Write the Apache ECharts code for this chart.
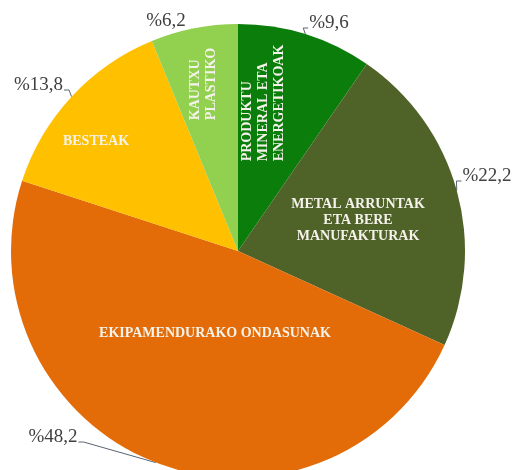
<!DOCTYPE html>
<html>
<head>
<meta charset="utf-8">
<script src="https://cdn.jsdelivr.net/npm/echarts@6/dist/echarts.min.js"></script>
<style>
  html, body { margin: 0; padding: 0; background: #ffffff; }
  #chart { width: 514px; height: 470px; }
</style>
</head>
<body>
<div id="chart"></div>
<script>
// Export shares by product group (%), clockwise from 12 o'clock
const categories = [
  'PRODUKTU\nMINERAL ETA\nENERGETIKOAK',
  'METAL ARRUNTAK\nETA BERE\nMANUFAKTURAK',
  'EKIPAMENDURAKO ONDASUNAK',
  'BESTEAK',
  'KAUTXU\nPLASTIKO'
];
const shares = [9.6, 22.2, 48.2, 13.8, 6.2];

// Slice colours
const sliceColors = ['#0b7d0b', '#4f6228', '#e36c09', '#ffc000', '#92d050'];

// Label placement (text centres, in px) and rotation
const innerLabelPos = [[263, 103], [358, 220], [215, 333], [96, 141], [203, 84]];
const innerLabelRotate = [90, 0, 0, 0, 90];
const outerLabelPos = [[329, 23], [487, 176], [53, 437], [38.5, 85], [166, 21]];
const outerLeaderShown = [true, true, true, true, false];

const SERIF = '"Liberation Serif", "Times New Roman", serif';

function pctText(v) {
  return '%' + String(v).replace('.', ',');
}

const chart = echarts.init(document.getElementById('chart'), null, { renderer: 'canvas' });

const baseData = categories.map((name, i) => ({
  name: name,
  value: shares[i]
}));

const pieCenter = [238, 251];
const pieRadius = 227;

chart.setOption({
  animation: false,
  backgroundColor: '#ffffff',
  series: [
    {
      // slices with value labels and leader lines
      type: 'pie',
      center: pieCenter,
      radius: [0, pieRadius],
      startAngle: 90,
      clockwise: true,
      silent: true,
      avoidLabelOverlap: false,
      data: baseData.map((d, i) => ({
        name: d.name,
        value: d.value,
        itemStyle: { color: sliceColors[i] },
        labelLine: { show: outerLeaderShown[i] }
      })),
      label: {
        show: true,
        position: 'outside',
        formatter: p => pctText(p.value),
        fontFamily: SERIF,
        fontSize: 19,
        color: '#404040'
      },
      labelLine: {
        show: true,
        length: 6,
        length2: 6,
        lineStyle: { color: '#5a6470', width: 1 }
      },
      labelLayout: function (params) {
        const i = params.dataIndex;
        const pos = outerLabelPos[i];
        const out = { x: pos[0], y: pos[1], align: 'center', verticalAlign: 'middle' };
        const pts = params.labelLinePoints;
        if (outerLeaderShown[i] && pts && pts.length) {
          const edge = pts[0];
          const halfW = params.labelRect.width / 2;
          const ly = pos[1] + 5;
          let p2, p1;
          if (edge[0] < pos[0]) {
            p2 = [pos[0] - halfW - 1, ly];
            p1 = [p2[0] - 5, ly];
          } else {
            p2 = [pos[0] + halfW + 1, ly];
            p1 = [p2[0] + 5, ly];
          }
          out.labelLinePoints = [edge, p1, p2];
        }
        return out;
      },
      emphasis: { disabled: true }
    },
    {
      // category names inside the slices
      type: 'pie',
      center: pieCenter,
      radius: [0, pieRadius],
      startAngle: 90,
      clockwise: true,
      silent: true,
      data: baseData.map(d => ({
        name: d.name,
        value: d.value,
        itemStyle: { color: 'rgba(0,0,0,0)' }
      })),
      label: {
        show: true,
        position: 'inside',
        fontFamily: SERIF,
        fontWeight: 'bold',
        fontSize: 14,
        lineHeight: 16,
        color: '#f4f2ea',
        formatter: function (p) {
          const lines = p.name.split('\n');
          const tag = innerLabelRotate[p.dataIndex] ? 'l' : 'c';
          return lines.map(s => '{' + tag + '|' + s + '}').join('\n');
        },
        rich: {
          l: { align: 'left', fontFamily: SERIF, fontWeight: 'bold', fontSize: 14, lineHeight: 16, color: '#f4f2ea' },
          c: { align: 'center', fontFamily: SERIF, fontWeight: 'bold', fontSize: 14, lineHeight: 16, color: '#f4f2ea' }
        }
      },
      labelLine: { show: false },
      labelLayout: function (params) {
        const i = params.dataIndex;
        return {
          x: innerLabelPos[i][0],
          y: innerLabelPos[i][1],
          rotate: innerLabelRotate[i],
          align: 'center',
          verticalAlign: 'middle'
        };
      },
      emphasis: { disabled: true }
    }
  ]
});
</script>
</body>
</html>
